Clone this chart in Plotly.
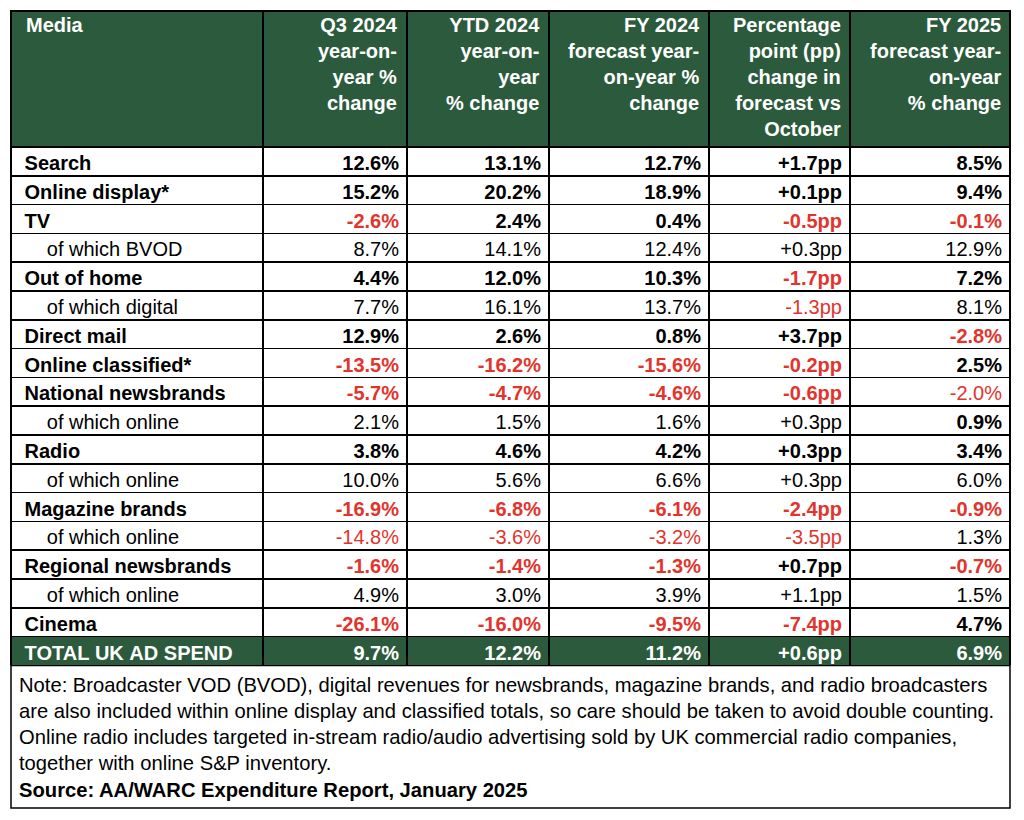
import plotly.graph_objects as go

# ---- data -------------------------------------------------------------
headers = [
    "Media",
    "Q3 2024<br>year-on-<br>year %<br>change",
    "YTD 2024<br>year-on-<br>year<br>% change",
    "FY 2024<br>forecast year-<br>on-year %<br>change",
    "Percentage<br>point (pp)<br>change in<br>forecast vs<br>October",
    "FY 2025<br>forecast year-<br>on-year<br>% change",
]

media = ["Search", "Online display*", "TV", "of which BVOD", "Out of home",
         "of which digital", "Direct mail", "Online classified*",
         "National newsbrands", "of which online", "Radio", "of which online",
         "Magazine brands", "of which online", "Regional newsbrands",
         "of which online", "Cinema", "TOTAL UK AD SPEND"]

q3_2024 = [12.6, 15.2, -2.6, 8.7, 4.4, 7.7, 12.9, -13.5, -5.7, 2.1, 3.8, 10.0,
           -16.9, -14.8, -1.6, 4.9, -26.1, 9.7]
ytd_2024 = [13.1, 20.2, 2.4, 14.1, 12.0, 16.1, 2.6, -16.2, -4.7, 1.5, 4.6, 5.6,
            -6.8, -3.6, -1.4, 3.0, -16.0, 12.2]
fy_2024 = [12.7, 18.9, 0.4, 12.4, 10.3, 13.7, 0.8, -15.6, -4.6, 1.6, 4.2, 6.6,
           -6.1, -3.2, -1.3, 3.9, -9.5, 11.2]
pp_change = [1.7, 0.1, -0.5, 0.3, -1.7, -1.3, 3.7, -0.2, -0.6, 0.3, 0.3, 0.3,
             -2.4, -3.5, 0.7, 1.1, -7.4, 0.6]
fy_2025 = [8.5, 9.4, -0.1, 12.9, 7.2, 8.1, -2.8, 2.5, -2.0, 0.9, 3.4, 6.0,
           -0.9, 1.3, -0.7, 1.5, 4.7, 6.9]

note_lines = [
    "Note: Broadcaster VOD (BVOD), digital revenues for newsbrands, magazine brands, and radio broadcasters",
    "are also included within online display and classified totals, so care should be taken to avoid double counting.",
    "Online radio includes targeted in-stream radio/audio advertising sold by UK commercial radio companies,",
    "together with online S&P inventory.",
]
source = "Source: AA/WARC Expenditure Report, January 2025"

# ---- styling ----------------------------------------------------------
GREEN = "#2b5a3c"
RED = "#e2342c"
FONT = "Liberation Sans, Arial, sans-serif"
FS = 20
NOTE_FS = 20.2
OFF = 8                      # page body margin
W, H = 1024 - 2 * OFF, 820 - 2 * OFF
X0 = 11                      # table left edge, page px
col_w = [252, 144, 142, 160, 141, 160]
X1 = X0 + sum(col_w)
TOP = 11
HEAD_H = 136
ROW_H = 28.8
n = len(media)
TABLE_BOTTOM = TOP + HEAD_H + n * ROW_H
NOTE_BOTTOM = 808


def px(x):
    return (x - OFF) / W


def py(y):
    return 1 - (y - OFF) / H


is_sub = [m.startswith("of which") for m in media]
is_total = [i == n - 1 for i in range(n)]
# cells that break the row's bold rule in the source table: (row, col)
bold_flip = {(8, 5), (9, 5)}

num_cols = [q3_2024, ytd_2024, fy_2024, pp_change, fy_2025]

# full text / colour / boldness per cell (column-major, as go.Table wants)
all_text, all_color, all_bold = [], [], []

first = []
for i, m in enumerate(media):
    pad = "\u00a0" * (5 if is_sub[i] else 1)
    first.append(pad + m.replace(" ", "\u00a0"))
all_text.append(first)
all_color.append(["white" if t else "black" for t in is_total])
all_bold.append([not s for s in is_sub])

for c, vals in enumerate(num_cols, start=1):
    txt, col, bd = [], [], []
    for i, v in enumerate(vals):
        txt.append(f"{v:+.1f}pp" if c == 4 else f"{v:.1f}%")
        b = not is_sub[i]
        if (i, c) in bold_flip:
            b = not b
        bd.append(b)
        if is_total[i]:
            col.append("white")
        else:
            col.append(RED if v < 0 else "black")
    all_text.append(txt)
    all_color.append(col)
    all_bold.append(bd)

# split into a bold layer and a regular layer (font weight is per column only)
bold_text = [[t if b else "" for t, b in zip(tc, bc)] for tc, bc in zip(all_text, all_bold)]
reg_text = [[t if not b else "" for t, b in zip(tc, bc)] for tc, bc in zip(all_text, all_bold)]

fills = [[GREEN if t else "white" for t in is_total] for _ in range(6)]
domain = dict(x=[px(X0), px(X1)], y=[py(TABLE_BOTTOM), py(TOP)])
align = ["left"] + ["right"] * 5
CLEAR = "rgba(0,0,0,0)"

fig = go.Figure()
fig.add_trace(go.Table(
    columnwidth=col_w,
    header=dict(values=[""] * 6, fill_color=GREEN,
                line=dict(color="black", width=1.5), height=HEAD_H),
    cells=dict(values=bold_text, fill_color=fills,
               font=dict(family=FONT, size=FS, color=all_color, weight="bold"),
               align=align, line=dict(color="black", width=1.5), height=ROW_H),
    domain=domain,
))
fig.add_trace(go.Table(
    columnwidth=col_w,
    header=dict(values=[""] * 6, fill_color=CLEAR,
                line=dict(color=CLEAR, width=0), height=HEAD_H),
    cells=dict(values=reg_text, fill_color=CLEAR,
               font=dict(family=FONT, size=FS, color=all_color, weight="normal"),
               align=align, line=dict(color=CLEAR, width=0), height=ROW_H),
    domain=domain,
))

# header labels (multi-line, right aligned inside each column)
edges = [X0]
for w in col_w:
    edges.append(edges[-1] + w)
for j, h in enumerate(headers):
    if j == 0:
        x, xa, al = px(edges[0] + 13), "left", "left"
    else:
        x, xa, al = px(edges[j + 1] - 7), "right", "right"
    fig.add_annotation(text=f"<b>{h}</b>", xref="paper", yref="paper",
                       x=x, y=py(TOP + 1), xanchor=xa, yanchor="top",
                       align=al, showarrow=False,
                       font=dict(family=FONT, size=FS, color="white"))

# note box
fig.add_shape(type="rect", xref="paper", yref="paper",
              x0=px(X0), x1=px(X1), y0=py(NOTE_BOTTOM), y1=py(TABLE_BOTTOM),
              line=dict(color="black", width=1.5), fillcolor="white", layer="below")

line_y = [685, 711, 737, 763, 790]
for y, t in zip(line_y, note_lines + [f"<b>{source}</b>"]):
    fig.add_annotation(text=t, xref="paper", yref="paper",
                       x=px(X0 + 6), y=py(y), xanchor="left", yanchor="middle",
                       showarrow=False, font=dict(family=FONT, size=NOTE_FS, color="black"))

fig.update_layout(width=W, height=H, margin=dict(l=0, r=0, t=0, b=0),
                  paper_bgcolor="white", plot_bgcolor="white")

fig.write_html("out.html")
